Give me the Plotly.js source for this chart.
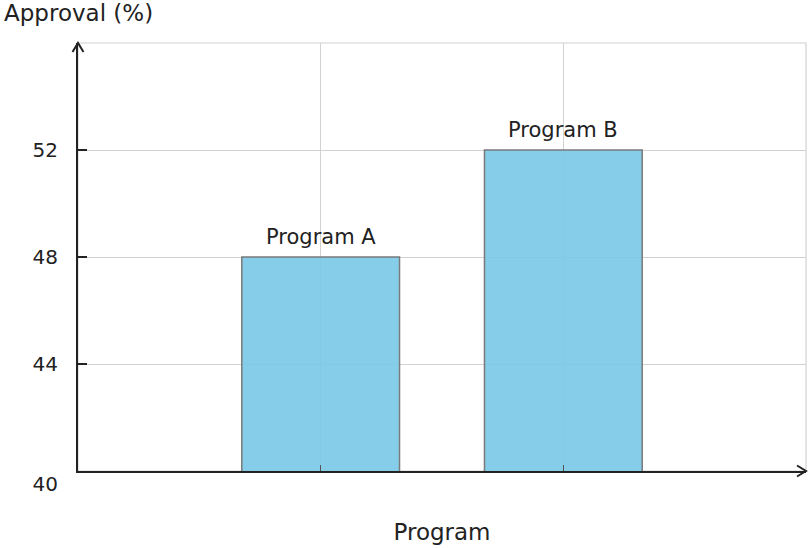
<!DOCTYPE html>
<html>
<head>
<meta charset="utf-8">
<script src="https://cdn.plot.ly/plotly-3.0.1.min.js"></script>
<style>html,body{margin:0;padding:0;background:#fff}#chart{width:810px;height:548px}</style>
</head>
<body>
<div id="chart"></div>
<script>
var categories = ["Program A", "Program B"];
var approval = [48, 52];
var yTickVals = [40, 44, 48, 52];
var yTickText = ["<br>40", "44", "48", "52"];
var yTitle = "Approval (%)";
var xTitle = "Program";

var FONT = "DejaVu Sans, sans-serif";
var W = 728, H = 428;

var trace = {
  type: "bar",
  x: categories,
  y: approval,
  width: 0.65,
  marker: {color: "rgba(120,200,230,0.9)", line: {color: "#7a7a7a", width: 1.5}},
  hoverinfo: "skip"
};

var annotations = categories.map(function (c, i) {
  return {x: c, y: approval[i], xref: "x", yref: "y", text: c, showarrow: false,
          yanchor: "bottom", yshift: 6, font: {family: FONT, size: 21, color: "#222"}};
});

var ax = 9 / W, ay = 9 / H, wx = 5.5 / W, wy = 5.5 / H;
var shapes = [
  {type: "rect", xref: "paper", yref: "paper", x0: 0, x1: 1, y0: 0, y1: 1,
   line: {color: "#d2d2d2", width: 1.2}, layer: "below"},
  {type: "path", xref: "paper", yref: "paper",
   path: "M " + (-wx) + " " + (1 - ay) + " L 0 1 L " + wx + " " + (1 - ay),
   line: {color: "#222", width: 2}},
  {type: "path", xref: "paper", yref: "paper",
   path: "M " + (1 - ax) + " " + wy + " L 1 0 L " + (1 - ax) + " " + (-wy),
   line: {color: "#222", width: 2}}
];

var layout = {
  width: 810, height: 548,
  margin: {l: 78, r: 4, t: 43, b: 77},
  paper_bgcolor: "#fff", plot_bgcolor: "#fff",
  showlegend: false,
  font: {family: FONT, color: "#222"},
  title: {text: yTitle, x: 4 / 810, xanchor: "left", xref: "container",
          y: 1 - 13 / 548, yanchor: "middle", yref: "container",
          font: {family: FONT, size: 23, color: "#222"}},
  xaxis: {
    type: "category", range: [-1, 2], fixedrange: true,
    showgrid: true, gridcolor: "#d2d2d2", gridwidth: 1,
    showline: true, linecolor: "#222", linewidth: 2,
    ticks: "inside", ticklen: 6, tickwidth: 1.5, tickcolor: "#555",
    showticklabels: false, zeroline: false,
    title: {text: xTitle, standoff: 52, font: {family: FONT, size: 23, color: "#222"}}
  },
  yaxis: {
    range: [40, 56], fixedrange: true,
    tickmode: "array", tickvals: yTickVals, ticktext: yTickText,
    showgrid: true, gridcolor: "#d2d2d2", gridwidth: 1,
    showline: true, linecolor: "#222", linewidth: 2, zeroline: false,
    ticks: "inside", ticklen: 9, tickwidth: 2, tickcolor: "#222",
    ticklabelstandoff: 14,
    tickfont: {family: FONT, size: 20, color: "#222"}
  },
  annotations: annotations,
  shapes: shapes
};

Plotly.newPlot("chart", [trace], layout, {displayModeBar: false, staticPlot: true});
</script>
</body>
</html>
